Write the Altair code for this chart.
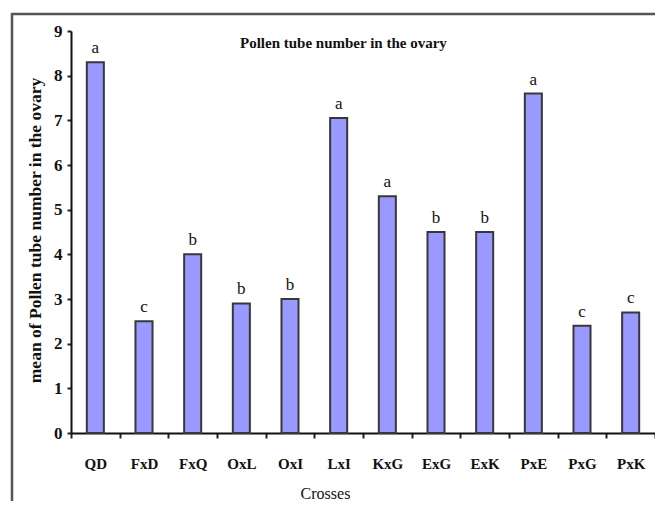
import altair as alt
import pandas as pd

crosses = ["QD", "FxD", "FxQ", "OxL", "OxI", "LxI", "KxG", "ExG", "ExK", "PxE", "PxG", "PxK"]
means = [8.3, 2.5, 4.0, 2.9, 3.0, 7.05, 5.3, 4.5, 4.5, 7.6, 2.4, 2.7]
letters = ["a", "c", "b", "b", "b", "a", "a", "b", "b", "a", "c", "c"]
y_ticks = [0, 1, 2, 3, 4, 5, 6, 7, 8, 9]
title_text = "Pollen tube number in the ovary"
x_title = "Crosses"
y_title = "mean of Pollen tube number in the ovary"

df = pd.DataFrame({"cross": crosses, "mean": means, "letter": letters})

SERIF = "Liberation Serif"
W, H = 584, 402
PAD = {"left": 63, "top": 23, "right": 0, "bottom": 68}

x_enc = alt.X(
    "cross:N",
    sort=crosses,
    scale=alt.Scale(paddingInner=0, paddingOuter=0),
    axis=alt.Axis(
        title=x_title,
        labelAngle=0,
        tickBand="extent",
        tickSize=5,
        tickWidth=2,
        tickColor="#222222",
        domainColor="#111111",
        domainWidth=2,
        labelFont=SERIF,
        labelFontSize=15,
        labelFontWeight="bold",
        labelColor="#111111",
        labelPadding=18,
        titleFont=SERIF,
        titleFontSize=16,
        titleFontWeight="normal",
        titleColor="#111111",
        titleX=254,
        titleY=65,
        titleAlign="center",
        titleBaseline="alphabetic",
    ),
)

y_enc = alt.Y(
    "mean:Q",
    scale=alt.Scale(domain=[0, 9], nice=False, zero=True),
    axis=alt.Axis(
        title=y_title,
        values=y_ticks,
        grid=False,
        tickSize=4,
        tickWidth=2,
        tickColor="#222222",
        domainColor="#111111",
        domainWidth=2,
        labelFont=SERIF,
        labelFontSize=17,
        labelFontWeight="bold",
        labelColor="#111111",
        labelPadding=5,
        titleFont=SERIF,
        titleFontSize=17.5,
        titleFontWeight="bold",
        titleColor="#111111",
        titleAngle=270,
        titleX=-36,
        titleY=199,
        titleAlign="center",
        titleBaseline="middle",
    ),
)

bars = alt.Chart(df).mark_bar(
    width=alt.RelativeBandSize(0.35),
    fill="#9999FF",
    stroke="#383838",
    strokeWidth=2,
).encode(x=x_enc, y=y_enc)

letters_layer = alt.Chart(df).mark_text(
    baseline="bottom",
    dy=-5,
    font=SERIF,
    fontSize=17,
    color="#111111",
).encode(x=alt.X("cross:N", sort=crosses), y="mean:Q", text="letter:N")

title_layer = alt.Chart(alt.Data(values=[{"t": title_text}])).mark_text(
    align="left",
    baseline="middle",
    font=SERIF,
    fontSize=15,
    fontWeight="bold",
    color="#111111",
).encode(x=alt.value(169), y=alt.value(12), text="t:N")

frame_left = alt.Chart(alt.Data(values=[{"f": 1}])).mark_rule(
    stroke="#555555", strokeWidth=2.5
).encode(x=alt.value(-59), y=alt.value(-18), y2=alt.value(H + PAD["bottom"]))

frame_top = alt.Chart(alt.Data(values=[{"f": 1}])).mark_rule(
    stroke="#555555", strokeWidth=2.5
).encode(x=alt.value(-60), x2=alt.value(W + PAD["right"]), y=alt.value(-17))

chart = alt.layer(frame_left, frame_top, bars, letters_layer, title_layer).properties(
    width=W,
    height=H,
    autosize=alt.AutoSizeParams(type="none"),
    padding=PAD,
    background="white",
).configure_view(stroke=None)

chart.save("out.html", embed_options={"renderer": "svg", "actions": False})
